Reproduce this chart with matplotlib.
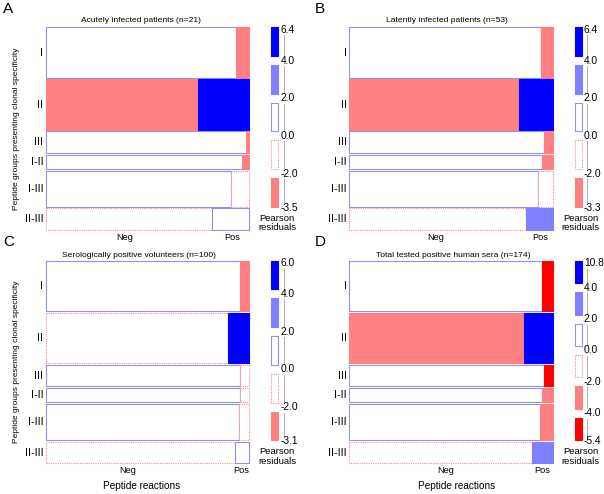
import matplotlib.pyplot as plt
from matplotlib.patches import Rectangle

plt.rcParams['font.family'] = ['Liberation Sans', 'DejaVu Sans']

# peptide groups (rows) and number of peptides per group (row heights)
groups = ['I', 'II', 'III', 'I-II', 'I-III', 'II-III']
peptides = [7, 7, 3, 2, 5, 3]
columns = ['Neg', 'Pos']

letters = ['A', 'B', 'C', 'D']
titles = ['Acutely infected patients (n=21)',
          'Latently infected patients (n=53)',
          'Serologically positive volunteers (n=100)',
          'Total tested positive human sera (n=174)']

# share of positive reactions per group
pos_A = [0.066, 0.253, 0.016, 0.036, 0.090, 0.181]
pos_B = [0.059, 0.164, 0.043, 0.051, 0.069, 0.131]
pos_C = [0.043, 0.102, 0.044, 0.043, 0.049, 0.072]
pos_D = [0.051, 0.139, 0.041, 0.051, 0.061, 0.103]

# residual class per cell: 3 >4, 2 2..4, 1 0..2, -1 -2..0, -2 -4..-2, -3 <-4
neg_A = [1, -2, 1, 1, 1, -1]
res_pos_A = [-2, 3, -2, -2, -1, 1]
neg_B = [1, -2, 1, 1, 1, -1]
res_pos_B = [-2, 3, -2, -2, -1, 2]
neg_C = [1, -1, 1, 1, 1, -1]
res_pos_C = [-2, 3, -1, -1, -1, 1]
neg_D = [1, -2, 1, 1, 1, -1]
res_pos_D = [-3, 3, -3, -2, -2, 2]

# legend breaks (Pearson residuals)
breaks_A = ['6.4', '4.0', '2.0', '0.0', '-2.0', '-3.5']
breaks_B = ['6.4', '4.0', '2.0', '0.0', '-2.0', '-3.3']
breaks_C = ['6.0', '4.0', '2.0', '0.0', '-2.0', '-3.1']
breaks_D = ['10.8', '4.0', '2.0', '0.0', '-2.0', '-4.0', '-5.4']
levels_A = [3, 2, 1, -1, -2]
levels_B = [3, 2, 1, -1, -2]
levels_C = [3, 2, 1, -1, -2]
levels_D = [3, 2, 1, -1, -2, -3]

panels = [
    (pos_A, neg_A, res_pos_A, breaks_A, levels_A),
    (pos_B, neg_B, res_pos_B, breaks_B, levels_B),
    (pos_C, neg_C, res_pos_C, breaks_C, levels_C),
    (pos_D, neg_D, res_pos_D, breaks_D, levels_D),
]

W, H = 604, 494
fig = plt.figure(figsize=(6.04, 4.94), dpi=100)


def fx(x):
    return x / W


def fy(y):
    return 1 - y / H


def px_axes(x0, y0, w, h):
    ax = fig.add_axes([x0 / W, 1 - (y0 + h) / H, w / W, h / H])
    ax.set_axis_off()
    return ax


def style(level):
    blue_edge = '#9292e2'
    red_edge = '#f29090'
    if level == 3:
        return dict(facecolor='#0000ff', edgecolor='#0000ff', linestyle='-')
    if level == 2:
        return dict(facecolor='#8080ff', edgecolor='#8080ff', linestyle='-')
    if level == 1:
        return dict(facecolor='white', edgecolor=blue_edge, linestyle='-')
    if level == -1:
        return dict(facecolor='white', edgecolor=red_edge, linestyle=(0, (1, 1)))
    if level == -2:
        return dict(facecolor='#ff8080', edgecolor='#ff8080', linestyle='-')
    return dict(facecolor='#ff0000', edgecolor='#ff0000', linestyle='-')


# layout in pixels
origins = [(46, 27.3), (349.3, 27.3), (46, 260.7), (349.3, 260.7)]
mw, mh = 203.2, 202.7
gap = 0.23  # in peptide units
title_pos = [(141, 21), (447, 21), (138.7, 255), (453.7, 255)]
letter_pos = [(3, 2), (315, 2), (3, 235.5), (315, 235.5)]
label_x = [(0.389, 0.915), (0.426, 0.941), (0.404, 0.963), (0.474, 0.949)]
xlabel_x = [None, None, 142, 457]

for k, (pos, neg_res, pos_res, breaks, levels) in enumerate(panels):
    x0, y0 = origins[k]
    ax = px_axes(x0, y0, mw, mh)
    total = sum(peptides) + gap * (len(peptides) - 1)
    ax.set_xlim(0, 1)
    ax.set_ylim(total, 0)

    y = 0
    centers = []
    for i, g in enumerate(groups):
        h = peptides[i]
        split = 1 - pos[i]
        ax.add_patch(Rectangle((0, y), split, h, linewidth=0.8, clip_on=False,
                               **style(neg_res[i])))
        ax.add_patch(Rectangle((split, y), pos[i], h, linewidth=0.8, clip_on=False,
                               **style(pos_res[i])))
        centers.append(y + h / 2)
        y += h + gap

    # row labels
    for i, g in enumerate(groups):
        cy = y0 + centers[i] / total * mh
        fig.text(fx(x0 - 2.5), fy(cy), g, ha='right', va='center', fontsize=7.8)

    # column labels
    for c, fr in zip(columns, label_x[k]):
        fig.text(fx(x0 + fr * mw), fy(y0 + mh + 7.5), c, ha='center', va='center',
                 fontsize=6.6)

    tx, ty = title_pos[k]
    fig.text(fx(tx), fy(ty), titles[k], ha='center', va='center', fontsize=6.1)
    lx, ly = letter_pos[k]
    fig.text(fx(lx), fy(ly), letters[k], ha='left', va='top', fontsize=11)

    if k in (0, 2):
        fig.text(fx(16.7), fy(y0 + mh / 2), 'Peptide groups presenting clonal specificity',
                 rotation=90, ha='center', va='center', fontsize=6)
    if xlabel_x[k] is not None:
        fig.text(fx(xlabel_x[k]), fy(485.7), 'Peptide reactions', ha='center', va='center',
                 fontsize=7.2)

    # legend
    lg_x = x0 + mw + 21.5
    lg_h = 179.5
    bgap = 9
    n = len(levels)
    bh = (lg_h - bgap * (n - 1)) / n
    lax = px_axes(lg_x, y0, 8, lg_h)
    lax.set_xlim(0, 8)
    lax.set_ylim(lg_h, 0)
    label_y = [0]
    for j, lev in enumerate(levels):
        top = j * (bh + bgap)
        lax.add_patch(Rectangle((0.5, top), 7, bh, linewidth=0.8, clip_on=False,
                                **style(lev)))
        if j < n - 1:
            label_y.append(top + bh + bgap / 2)
    label_y.append(lg_h + 1)
    label_y[0] = 2.5
    for b, ly in zip(breaks, label_y):
        lax.text(10.0, ly, b, ha='left', va='center', fontsize=7.4, clip_on=False)
    for a, b in zip(label_y[:-1], label_y[1:]):
        lax.plot([13.3, 13.3], [a + 5.5, b - 5.5], color='#a0a0a0', linewidth=0.6,
                 clip_on=False)
    cx = lg_x + 6.5
    fig.text(fx(cx), fy(y0 + lg_h + 11.5), 'Pearson', ha='center', va='center', fontsize=6.8)
    fig.text(fx(cx), fy(y0 + lg_h + 21), 'residuals', ha='center', va='center', fontsize=6.8)

fig.savefig('out.png', dpi=100)
